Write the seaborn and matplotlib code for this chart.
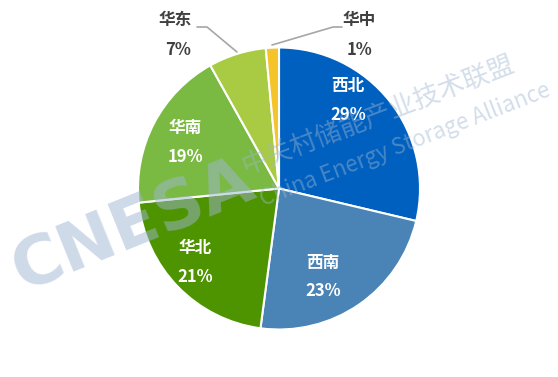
import numpy as np
import matplotlib.pyplot as plt
import seaborn as sns

# Share by region (%), clockwise from 12 o'clock
regions = ['西北', '西南', '华北', '华南', '华东', '华中']
shares = [28.7, 23.4, 21.3, 18.5, 6.6, 1.5]
pct_labels = ['29%', '23%', '21%', '19%', '7%', '1%']
colors = ['#0060BF', '#4A84B6', '#4E9400', '#7ABA42', '#A9CB44', '#F4C42A']

sns.set_theme(style='white')
plt.rcParams['font.family'] = ['Noto Sans CJK SC', 'DejaVu Sans']

W, H = 558, 377
fig = plt.figure(figsize=(W / 100, H / 100), dpi=100)
ax = fig.add_axes([0, 0, 1, 1])

cx, cy, R = 279, H - 188.5, 141
wedges, _ = ax.pie(shares, colors=colors, startangle=90, counterclock=False,
                   center=(cx, cy), radius=R, frame=True,
                   wedgeprops=dict(edgecolor='white', linewidth=1.5))
ax.set_xlim(0, W)
ax.set_ylim(0, H)
ax.set_aspect('equal')
ax.axis('off')

fs = 12
# label anchors (pixel offsets from pie centre, y down)
inside = {'西北': (69, -87), '西南': (44, 89), '华北': (-84, 74), '华南': (-94, -46)}
for name, pct in zip(regions, pct_labels):
    if name in inside:
        dx, dy = inside[name]
        ax.text(cx + dx, cy - dy + 15, name, color='white', fontsize=fs,
                fontweight='bold', ha='center', va='center', zorder=5)
        ax.text(cx + dx, cy - dy - 14, pct, color='white', fontsize=fs,
                fontweight='bold', ha='center', va='center', zorder=5)

# outside labels with leader lines
lc = '#A6A6A6'
dark = '#404040'
ax.plot([197, 207, 237], [H - 27, H - 27, H - 52], color=lc, lw=1.2, zorder=4)
ax.text(175, H - 20, '华东', color=dark, fontsize=fs, fontweight='bold',
        ha='center', va='center')
ax.text(178, H - 50, pct_labels[4], color=dark, fontsize=fs, fontweight='bold',
        ha='center', va='center')
ax.plot([272, 333, 342], [H - 45, H - 27, H - 27], color=lc, lw=1.2, zorder=4)
ax.text(359, H - 20, '华中', color=dark, fontsize=fs, fontweight='bold',
        ha='center', va='center')
ax.text(359, H - 50, pct_labels[5], color=dark, fontsize=fs, fontweight='bold',
        ha='center', va='center')

# watermark
wm = '#9FB6D3'
ax.text(133, H - 226, 'CNESA', color=wm, alpha=0.5, fontsize=49, fontweight='bold',
        family=['DejaVu Sans'], rotation=22, ha='center', va='center', zorder=6)
ax.text(378, H - 116, '中关村储能产业技术联盟', color=wm, alpha=0.45, fontsize=19,
        rotation=21, ha='center', va='center', zorder=6)
ax.text(405, H - 145, 'China Energy Storage Alliance', color=wm, alpha=0.45,
        fontsize=16, rotation=21, ha='center', va='center', zorder=6)

fig.savefig('out.png', dpi=100)
